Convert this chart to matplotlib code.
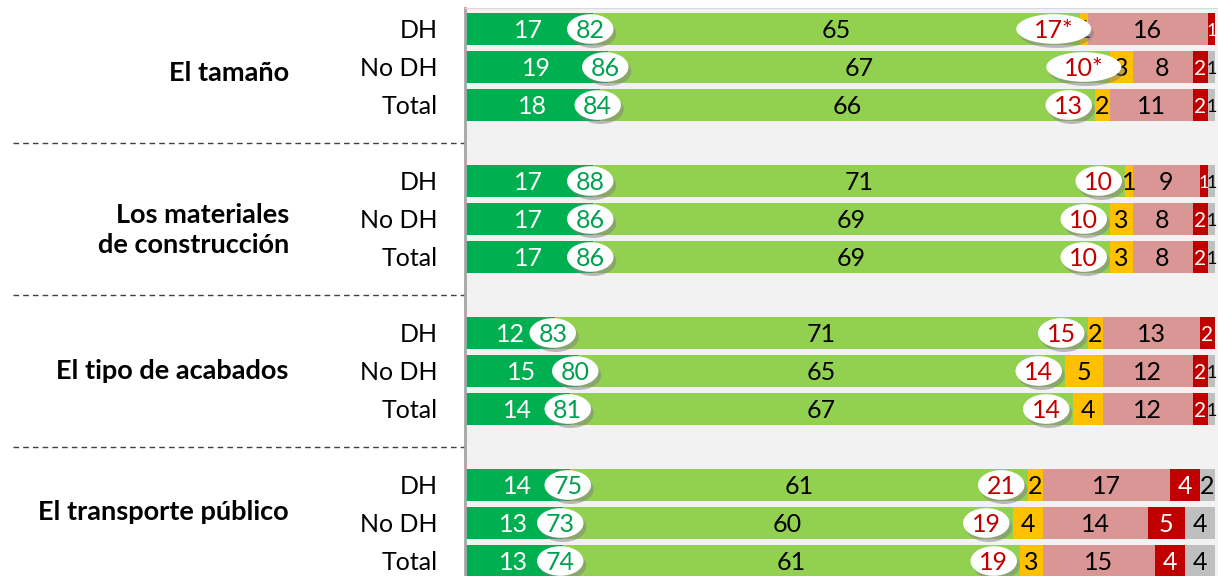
import numpy as np
import matplotlib.pyplot as plt
from matplotlib.patches import Ellipse
import matplotlib.patheffects as pe

plt.rcParams['font.family'] = ['Lato', 'DejaVu Sans']

groups = ['El tamaño', 'Los materiales\nde construcción', 'El tipo de acabados', 'El transporte público']
rows = ['DH', 'No DH', 'Total']

# columns: muy satisfecho, satisfecho, neutral, insatisfecho, muy insatisfecho, ns/nc
values = np.array([
    [17, 65, 1, 16, 1, 0],
    [19, 67, 3, 8, 2, 1],
    [18, 66, 2, 11, 2, 1],
    [17, 71, 1, 9, 1, 1],
    [17, 69, 3, 8, 2, 1],
    [17, 69, 3, 8, 2, 1],
    [12, 71, 2, 13, 2, 0],
    [15, 65, 5, 12, 2, 1],
    [14, 67, 4, 12, 2, 1],
    [14, 61, 2, 17, 4, 2],
    [13, 60, 4, 14, 5, 4],
    [13, 61, 3, 15, 4, 4],
])
net_pos = ['82', '86', '84', '88', '86', '86', '83', '80', '81', '75', '73', '74']
net_neg = ['17*', '10*', '13', '10', '10', '10', '15', '14', '14', '21', '19', '19']

colors = ['#00B050', '#92D050', '#FFC000', '#DA9694', '#C00000', '#BFBFBF']
txt_colors = ['white', 'black', 'black', 'black', 'white', 'black']

fig = plt.figure(figsize=(12.18, 5.76), dpi=100)
ax = fig.add_axes([465 / 1218, 0, 1 - 465 / 1218, 1 - 8 / 576])
ax.set_facecolor('#F2F2F2')

ypos = np.array([g * 4 + r for g in range(4) for r in range(3)])
left = np.zeros(len(values))
for k in range(values.shape[1]):
    ax.barh(ypos, values[:, k], left=left, height=0.82, color=colors[k], zorder=2)
    for i in range(len(values)):
        v = values[i, k]
        if v > 0:
            fs = 18
            if k >= 4 and v == 1:
                fs = 13
            elif k == 4 and v == 2:
                fs = 15
            ax.text(left[i] + v / 2, ypos[i] + 0.04, str(v), ha='center', va='center',
                    fontsize=fs, color=txt_colors[k], zorder=3)
    left = left + values[:, k]

shadow = [pe.withSimplePatchShadow(offset=(2, -3), shadow_rgbFace='#808080', alpha=0.5)]
for i in range(len(values)):
    xp = values[i, 0]
    e = Ellipse((xp - 0.3, ypos[i]), 6.2, 0.78, facecolor='white', edgecolor='none', zorder=4, path_effects=shadow)
    ax.add_patch(e)
    ax.text(xp - 0.3, ypos[i] + 0.04, net_pos[i], ha='center', va='center', fontsize=18, color='#00A050', zorder=5)
    xn = values[i, 0] + values[i, 1] - 3.5
    wn = 10.0 if '*' in net_neg[i] else 6.2
    e = Ellipse((xn, ypos[i]), wn, 0.78, facecolor='white', edgecolor='none', zorder=4, path_effects=shadow)
    ax.add_patch(e)
    ax.text(xn, ypos[i] + 0.04, net_neg[i], ha='center', va='center', fontsize=18, color='#C00000', zorder=5)

ax.set_xlim(0, 100.4)
ax.set_ylim((576 - 29) / 38, -21 / 38)
ax.set_xticks([])
ax.set_yticks([])
for s in ['right', 'bottom']:
    ax.spines[s].set_visible(False)
ax.spines['top'].set_color('#D9D9D9')
ax.spines['left'].set_color('#A6A6A6')
ax.spines['left'].set_linewidth(2)

# left-side labels
shift = [0.15, 0.3, 0.0, -0.3]
for g in range(4):
    for r in range(3):
        ax.text(-3.7, g * 4 + r + 0.03, rows[r], ha='right', va='center', fontsize=18,
                color='black', clip_on=False)
    ax.text(-23.5, g * 4 + 1 + shift[g], groups[g], ha='right', va='center', fontsize=19.5,
            fontweight='bold', color='black', clip_on=False, linespacing=1.3)
for y in [3, 7, 11]:
    ax.plot([-60.3, 0], [y, y], ls=(0, (4, 3)), color='#404040', lw=1, clip_on=False)

fig.savefig('out.png', dpi=100)
